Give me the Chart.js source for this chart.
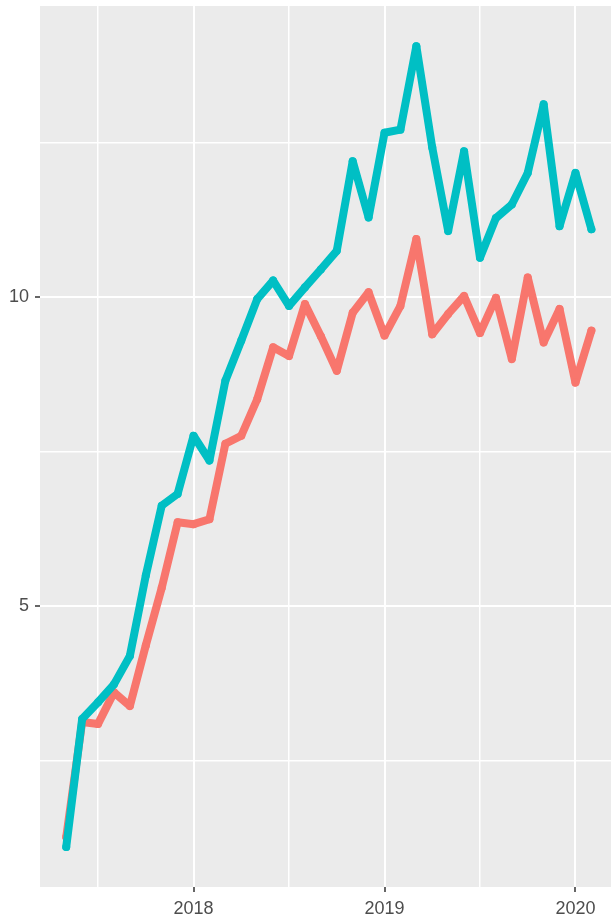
<!DOCTYPE html>
<html>
<head>
<meta charset="utf-8">
<script src="https://cdn.jsdelivr.net/npm/chart.js@4/dist/chart.umd.min.js"></script>
<style>
  body { margin: 0; background: #fff; overflow: hidden; }
</style>
</head>
<body>
<canvas id="myChart" width="611" height="921"></canvas>
<script>
// monthly values, May 2017 .. Feb 2020
const months = [
  '2017-05', '2017-06', '2017-07', '2017-08', '2017-09', '2017-10', '2017-11', '2017-12',
  '2018-01', '2018-02', '2018-03', '2018-04', '2018-05', '2018-06', '2018-07', '2018-08',
  '2018-09', '2018-10', '2018-11', '2018-12', '2019-01', '2019-02', '2019-03', '2019-04',
  '2019-05', '2019-06', '2019-07', '2019-08', '2019-09', '2019-10', '2019-11', '2019-12',
  '2020-01', '2020-02'
];
const tealValues = [
  1.11, 3.18, 3.45, 3.74, 4.2, 5.5, 6.63, 6.82,
  7.76, 7.36, 8.65, 9.3, 9.97, 10.27, 9.86, 10.16,
  10.45, 10.75, 12.2, 11.29, 12.66, 12.71, 14.06, 12.42,
  11.07, 12.36, 10.64, 11.28, 11.5, 12.01, 13.12, 11.15,
  12.01, 11.1
];
const redValues = [
  1.27, 3.13, 3.1, 3.61, 3.39, 4.37, 5.3, 6.36,
  6.33, 6.41, 7.63, 7.76, 8.35, 9.19, 9.05, 9.89,
  9.37, 8.81, 9.75, 10.08, 9.38, 9.86, 10.94, 9.4,
  9.73, 10.02, 9.42, 9.99, 9.0, 10.32, 9.27, 9.81,
  8.62, 9.46
];
const xTicks = [2017.5, 2018, 2018.5, 2019, 2019.5, 2020];
const yTicks = [2.5, 5, 7.5, 10, 12.5];

// month string -> decimal year
function toYear(m) {
  let parts = m.split('-');
  return Number(parts[0]) + (Number(parts[1]) - 1) / 12;
}

function toPoints(values) {
  return values.map((v, i) => ({ x: toYear(months[i]), y: v }));
}

const panelBg = {
  id: 'panelBg',
  beforeDraw(chart) {
    const { ctx, chartArea } = chart;
    ctx.save();
    ctx.fillStyle = '#EBEBEB';
    ctx.fillRect(chartArea.left, chartArea.top, chartArea.right - chartArea.left, chartArea.bottom - chartArea.top);
    ctx.restore();
  }
};

function lineStyle(color, order) {
  return {
    borderColor: color,
    backgroundColor: color,
    borderWidth: 8,
    borderJoinStyle: 'round',
    borderCapStyle: 'round',
    pointRadius: 4,
    pointBorderWidth: 0,
    pointBackgroundColor: color,
    tension: 0,
    order: order
  };
}

const ctx = document.getElementById('myChart');

new Chart(ctx, {
  type: 'line',
  data: {
    datasets: [
      Object.assign({ label: 'a', data: toPoints(tealValues) }, lineStyle('#00BFC4', 0)),
      Object.assign({ label: 'b', data: toPoints(redValues) }, lineStyle('#F8766D', 1))
    ]
  },
  options: {
    responsive: false,
    animation: false,
    devicePixelRatio: 1,
    layout: { autoPadding: false, padding: { top: 6, right: 0, left: 0, bottom: 0 } },
    plugins: {
      legend: { display: false },
      tooltip: { enabled: false }
    },
    scales: {
      x: {
        type: 'linear',
        min: 2017.196,
        max: 2020.186,
        border: { display: false },
        afterBuildTicks: scale => { scale.ticks = xTicks.map(v => ({ value: v })); },
        afterFit: scale => {
          scale.height = 34;
          scale.paddingLeft = 0;
          scale.paddingRight = 0;
        },
        grid: {
          color: '#FFFFFF',
          lineWidth: c => Number.isInteger(c.tick.value) ? 2 : 1.5,
          tickLength: 5,
          tickColor: c => Number.isInteger(c.tick.value) ? '#333333' : 'rgba(0,0,0,0)',
          tickWidth: 1.5
        },
        ticks: {
          autoSkip: false,
          maxRotation: 0,
          padding: 6,
          color: '#4D4D4D',
          font: { family: 'Liberation Sans, Arial, sans-serif', size: 18 },
          callback: v => Number.isInteger(v) ? String(v) : ''
        }
      },
      y: {
        type: 'linear',
        min: 0.4625,
        max: 14.71,
        border: { display: false },
        afterBuildTicks: scale => { scale.ticks = yTicks.map(v => ({ value: v })); },
        afterFit: scale => {
          scale.width = 40;
          scale.paddingTop = 0;
          scale.paddingBottom = 0;
        },
        grid: {
          color: '#FFFFFF',
          lineWidth: c => Number.isInteger(c.tick.value / 5) ? 2 : 1.5,
          tickLength: 5,
          tickColor: c => Number.isInteger(c.tick.value / 5) ? '#333333' : 'rgba(0,0,0,0)',
          tickWidth: 1.5
        },
        ticks: {
          padding: 6,
          color: '#4D4D4D',
          font: { family: 'Liberation Sans, Arial, sans-serif', size: 18 },
          callback: v => Number.isInteger(v / 5) ? String(v) : ''
        }
      }
    }
  },
  plugins: [panelBg]
});
</script>
</body>
</html>
